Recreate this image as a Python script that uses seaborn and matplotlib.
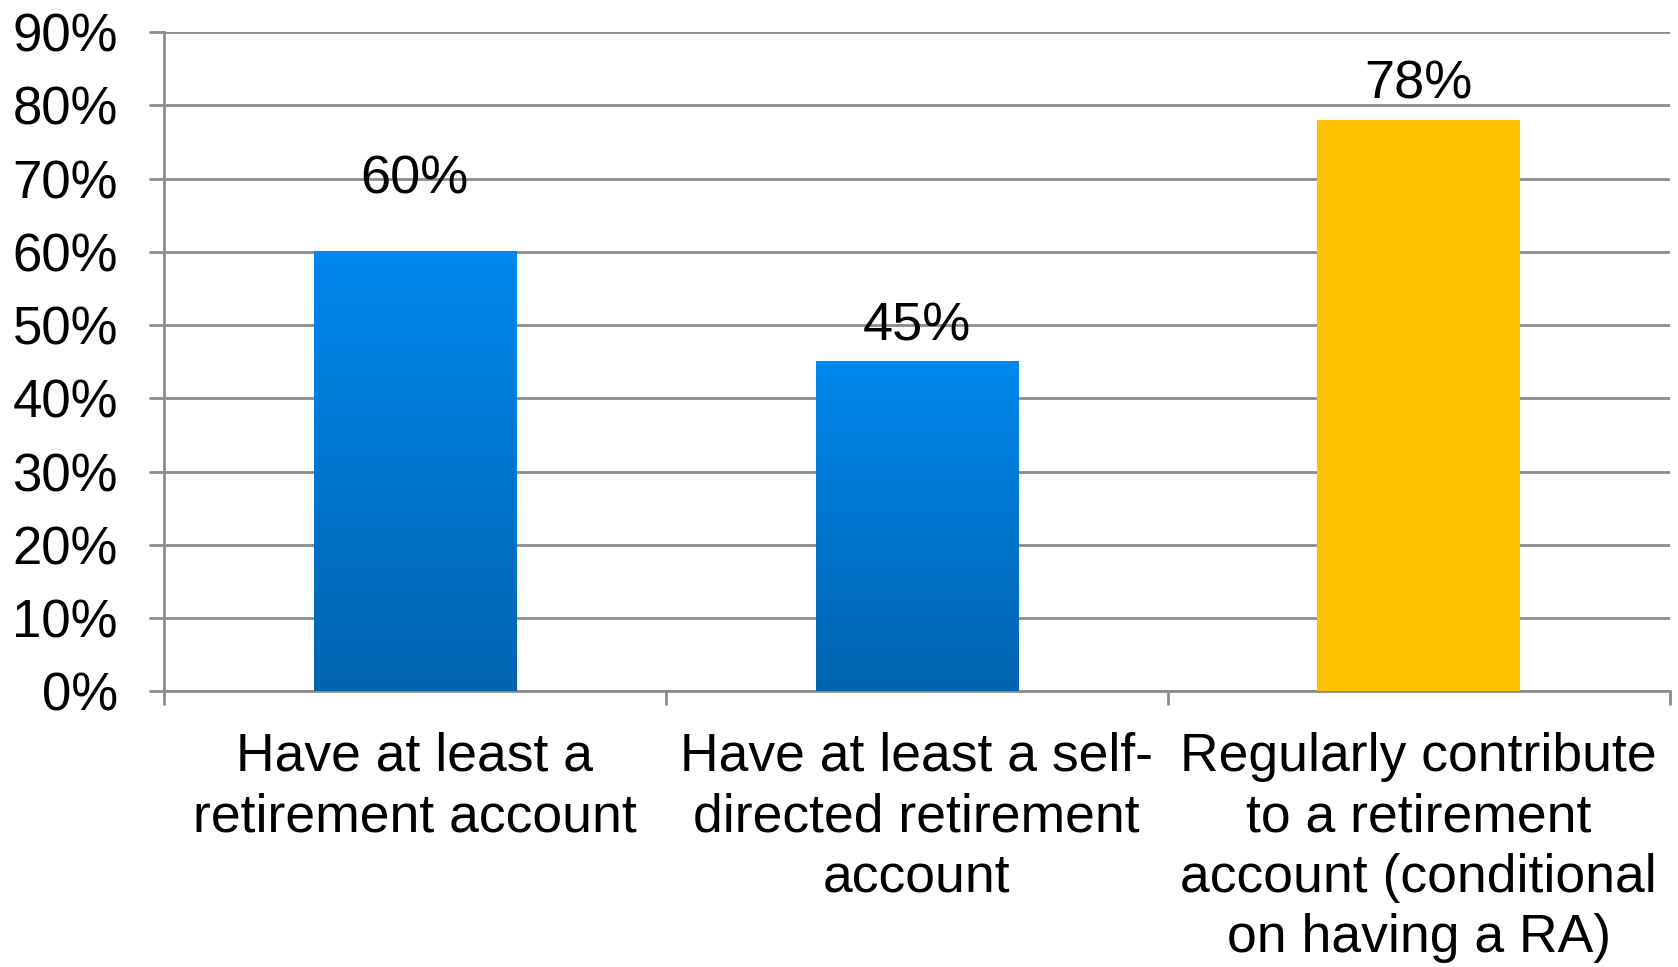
import numpy as np
import matplotlib
matplotlib.use("Agg")
import matplotlib.pyplot as plt
from matplotlib.colors import LinearSegmentedColormap
from matplotlib.ticker import FixedLocator, PercentFormatter
import seaborn as sns

categories = [
    "Have at least a\nretirement account",
    "Have at least a self-\ndirected retirement\naccount",
    "Regularly contribute\nto a retirement\naccount (conditional\non having a RA)",
]
values = [0.60, 0.45, 0.78]
value_labels = ["60%", "45%", "78%"]
y_ticks = [0.0, 0.1, 0.2, 0.3, 0.4, 0.5, 0.6, 0.7, 0.8, 0.9]

blue_top = "#0088ee"
blue_bottom = "#0064b0"
gold = "#ffc000"
grid_grey = "#8c8c8c"

sns.set_theme(style="white")
plt.rcParams["font.family"] = ["Liberation Sans", "DejaVu Sans"]

fig = plt.figure(figsize=(16.78, 9.67), dpi=100)
ax = fig.add_axes([0.0976, 0.285, 0.8974, 0.6818])

sns.barplot(x=categories, y=values, hue=categories, palette=[blue_top, blue_top, gold],
            width=0.403, legend=False, ax=ax, zorder=3, saturation=1)

# vertical gradient on the two blue bars
grad_cmap = LinearSegmentedColormap.from_list("bluegrad", [blue_bottom, blue_top])
gradient = np.linspace(0, 1, 256).reshape(-1, 1)
for i, patch in enumerate(ax.patches[:3]):
    x0, w, h = patch.get_x(), patch.get_width(), patch.get_height()
    if i < 2:
        ax.imshow(gradient, extent=[x0, x0 + w, 0, h], origin="lower",
                  cmap=grad_cmap, aspect="auto", zorder=3.5)
        patch.set_facecolor("none")
    patch.set_edgecolor("none")

ax.set_xlim(-0.5, 2.5)
ax.set_ylim(0, 0.9)

# value labels above bars
label_offsets = [42, 15.5, 15.5]
for i, (v, lab) in enumerate(zip(values, value_labels)):
    ax.annotate(lab, xy=(i, v), xytext=(0, label_offsets[i]), textcoords="offset points",
                ha="center", va="baseline", fontsize=39, color="black")

# axes styling
ax.yaxis.set_major_locator(FixedLocator(y_ticks))
ax.yaxis.set_major_formatter(PercentFormatter(1.0, decimals=0))
ax.grid(axis="y", color=grid_grey, linewidth=2, zorder=0)
ax.set_axisbelow(True)
for side in ["top", "right"]:
    ax.spines[side].set_visible(False)
for side in ["left", "bottom"]:
    ax.spines[side].set_color(grid_grey)
    ax.spines[side].set_linewidth(2)

ax.tick_params(axis="y", which="major", length=11, width=2, color=grid_grey,
               direction="out", left=True, pad=22, labelsize=38, labelcolor="black")
ax.set_xticks([0, 1, 2])
ax.set_xticklabels(categories, fontsize=38.5, color="black", linespacing=1.27)
ax.tick_params(axis="x", which="major", length=0, pad=29)
ax.xaxis.set_minor_locator(FixedLocator([-0.5, 0.5, 1.5, 2.5]))
ax.tick_params(axis="x", which="minor", length=10, width=2, color=grid_grey,
               direction="out", bottom=True)
ax.set_xlabel("")
ax.set_ylabel("")

fig.savefig("out.png", dpi=100, facecolor="white")
